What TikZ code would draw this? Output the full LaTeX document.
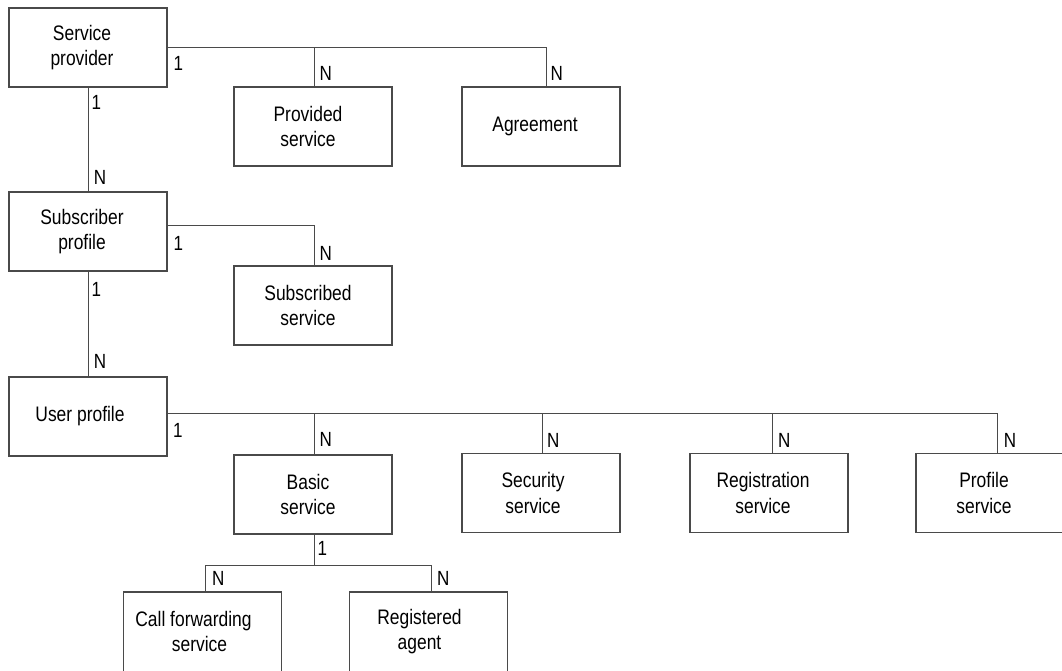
\documentclass[tikz,border=0pt]{standalone}
\usepackage{fontspec}
\setmainfont[FakeStretch=0.83]{Liberation Sans}
\usetikzlibrary{calc}
\definecolor{linec}{HTML}{4A4A4A}
\begin{document}
\begin{tikzpicture}[x=1pt,y=-1pt,
  ent/.style={draw=linec, line width=1.1pt, minimum width=158pt, minimum height=79pt, inner sep=0pt},
  txt/.style={align=center, font=\fontsize{21}{25.7}\selectfont, inner sep=0pt},
  card/.style={anchor=base west, inner sep=0pt, font=\fontsize{20.5}{24}\selectfont},
  conn/.style={draw=linec, line width=1pt}]
\useasboundingbox (0,0) rectangle (1062,670);
% entities
\node[ent, label={[txt, xshift=-6pt]center:Service\\provider}] (sp) at (88,47.5) {};
\node[ent, label={[txt, xshift=-5pt]center:Provided\\service}] (ps) at (313,126.5) {};
\node[ent, label={[txt, xshift=-6pt]center:Agreement}] (ag) at (541,126.5) {};
\node[ent, label={[txt, xshift=-6pt]center:Subscriber\\profile}] (sub) at (88,231.5) {};
\node[ent, label={[txt, xshift=-5pt]center:Subscribed\\service}] (ss) at (313,305.5) {};
\node[ent, label={[txt, xshift=-8pt]center:User profile}] (up) at (88,416.5) {};
\node[ent, label={[txt, xshift=-5pt]center:Basic\\service}] (bs) at (313,494.5) {};
\node[ent, label={[txt, xshift=-8pt]center:Security\\service}] (sec) at (541,493) {};
\node[ent, label={[txt, xshift=-6pt]center:Registration\\service}] (reg) at (769,493) {};
\node[ent, label={[txt, xshift=-11pt]center:Profile\\service}] (prof) at (995,493) {};
\node[ent, minimum height=86pt, label={[txt, xshift=-9pt, yshift=3.5pt]center:Call forwarding\\\hspace*{12pt}service}] (cf) at (202.5,635) {};
\node[ent, minimum height=86pt, label={[txt, xshift=-9pt, yshift=3.5pt]center:Registered\\agent}] (ra) at (428.5,635) {};
% connectors
\draw[conn] ([yshift=0.5pt]sp.east) -| ([xshift=5pt]ag.north);
\draw[conn] ([xshift=1pt]ps.north) -- ([xshift=1pt]ps.north |- sp.east);
\draw[conn] (sp.south) -- (sub.north);
\draw[conn] ([yshift=6.5pt]sub.east) -| ([xshift=1pt]ss.north);
\draw[conn] (sub.south) -- (up.north);
\draw[conn] ([yshift=3pt]up.east) -| ([xshift=2pt]prof.north);
\draw[conn] ([xshift=1pt]bs.north) -- ([xshift=1pt,yshift=3pt]bs.north |- up.east);
\draw[conn] ([xshift=1pt]sec.north) -- ([xshift=1pt,yshift=3pt]sec.north |- up.east);
\draw[conn] ([xshift=3pt]reg.north) -- ([xshift=3pt,yshift=3pt]reg.north |- up.east);
\coordinate (bsj) at (314,565);
\draw[conn] ([xshift=1pt]bs.south) -- (bsj);
\draw[conn] ([xshift=3pt]cf.north) |- (bsj) -| ([xshift=3pt]ra.north);
% cardinalities
\node[card] (c1) at (173.5,70) {1};
\node[card] (c2) at (319.4,80.7) {N};
\node[card] (c3) at (550.4,80) {N};
\node[card] (c4) at (91.3,109) {1};
\node[card] (c5) at (93.7,184.3) {N};
\node[card] (c6) at (173.5,250) {1};
\node[card] (c7) at (319.4,260) {N};
\node[card] (c8) at (91.3,296) {1};
\node[card] (c9) at (93.7,368.3) {N};
\node[card] (c10) at (173,437.3) {1};
\node[card] (c11) at (319.4,446.7) {N};
\node[card] (c12) at (547,447.3) {N};
\node[card] (c13) at (778,447.3) {N};
\node[card] (c14) at (1003.7,447.3) {N};
\node[card] (c15) at (317.3,555) {1};
\node[card] (c16) at (212,585) {N};
\node[card] (c17) at (437,585) {N};
\end{tikzpicture}
\end{document}
